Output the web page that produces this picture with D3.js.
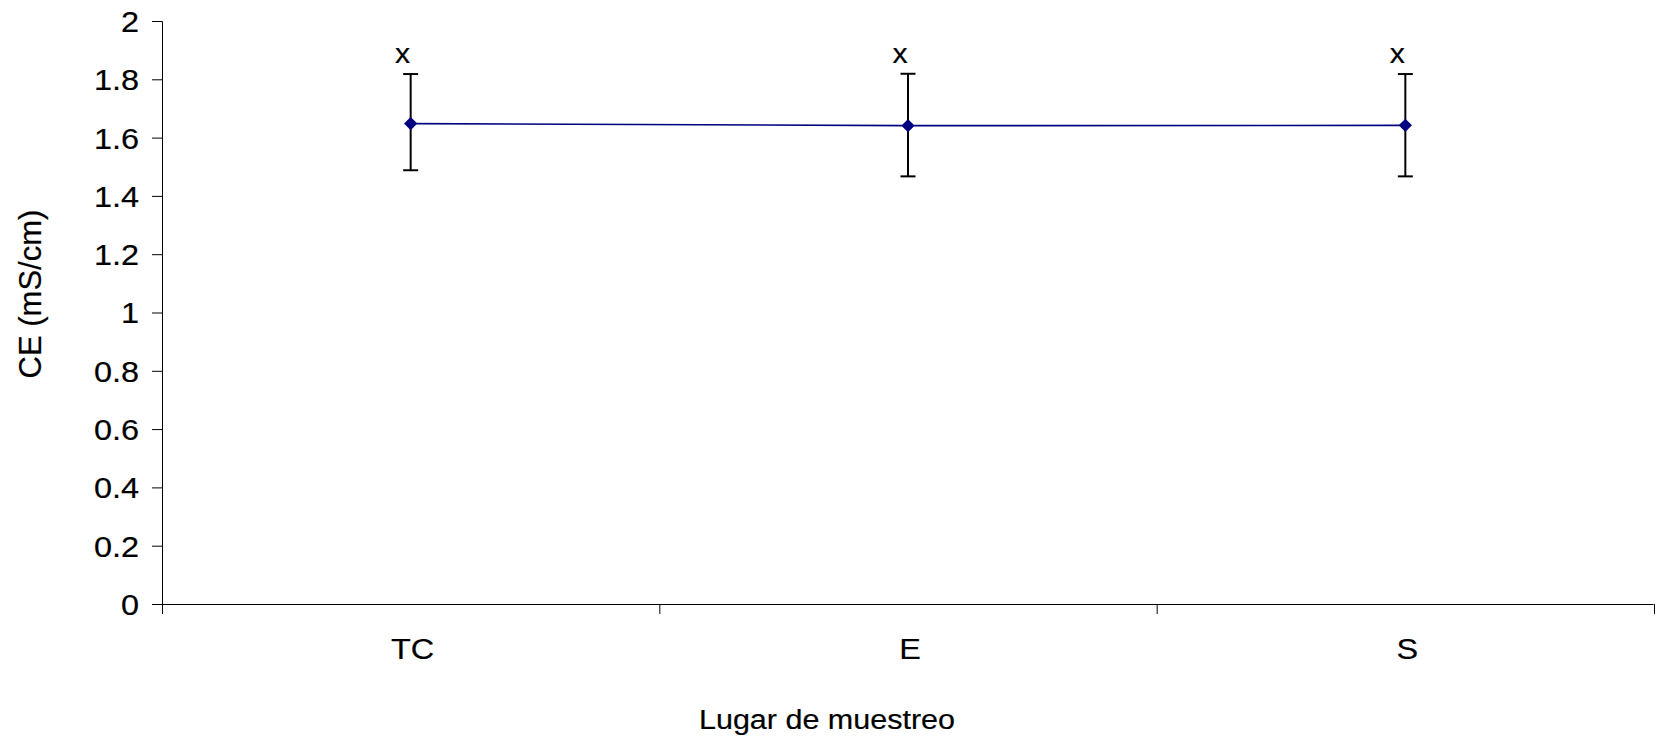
<!DOCTYPE html>
<html lang="es">
<head>
<meta charset="utf-8">
<title>CE por lugar de muestreo</title>
<script src="https://cdn.jsdelivr.net/npm/d3@7"></script>
<style>
  body { margin: 0; background: #fff; }
  text { font-family: "Liberation Sans", Arial, sans-serif; fill: #000; stroke: #000; stroke-width: 0.2px; }
</style>
</head>
<body>
<script>
// datos
var categories = ["TC", "E", "S"];
var means = [1.648, 1.641, 1.642];
var errUp = [0.170, 0.178, 0.176];
var errDown = [0.160, 0.174, 0.175];
var groupLabels = ["x", "x", "x"];
var yTicks = [0, 0.2, 0.4, 0.6, 0.8, 1, 1.2, 1.4, 1.6, 1.8, 2];

var w = 1655, h = 739;
var margin = { top: 21, left: 162, right: 1, bottom: 135 };

var svg = d3.select("body").append("svg")
    .attr("width", w)
    .attr("height", h);

var x0 = margin.left, x1 = w - margin.right;
var yBottom = h - margin.bottom;

var yscale = d3.scaleLinear().domain([0, 2]).range([yBottom, margin.top]);
var xband = d3.scaleBand().domain(categories).range([x0, x1]).padding(0);
var xedge = d3.scaleLinear().domain([0, categories.length]).range([x0, x1]);

// el texto del original sale algo ensanchado: se coloca en x/s y se escala
function wideText(sel, x, y, s) {
    sel.attr("x", x / s).attr("y", y).attr("transform", "scale(" + s + ",1)");
}

// eje y
var yaxis = svg.append("g")
    .attr("transform", "translate(" + x0 + ",0)")
    .call(d3.axisLeft(yscale).tickValues(yTicks).tickSize(10)
        .tickFormat(function(d) { return d3.format("")(+d.toFixed(1)); }));
yaxis.select(".domain").attr("stroke", "#000");
yaxis.selectAll(".tick text")
    .attr("font-size", 29)
    .attr("dy", "0.36em")
    .style("font-family", "Liberation Sans, Arial, sans-serif")
    .each(function() { wideText(d3.select(this), -23, 0, 1.12); });

// eje x: marcas en los limites de categoria
var xaxis = svg.append("g")
    .attr("transform", "translate(0," + yBottom + ")")
    .call(d3.axisBottom(xedge).ticks(categories.length).tickSize(10).tickFormat(""));
xaxis.select(".domain").attr("d", "M" + (x0 + 0.5) + ",0.5H" + (x1 - 0.5)).attr("stroke", "#000");

svg.append("g").selectAll("text")
    .data(categories)
    .enter().append("text")
    .attr("text-anchor", "middle")
    .attr("font-size", 30)
    .text(function(d) { return d; })
    .each(function(d) {
        wideText(d3.select(this), xband(d) + xband.bandwidth() / 2 + 2, yBottom + 55, 1.08);
    });

// titulos
wideText(svg.append("text")
    .attr("text-anchor", "middle")
    .attr("font-size", 28)
    .text("Lugar de muestreo"), 827, 729, 1.09);

svg.append("text")
    .attr("transform", "translate(41,294) rotate(-90)")
    .attr("text-anchor", "middle")
    .attr("font-size", 31)
    .text("CE (mS/cm)");

function cx(i) { return xband(categories[i]) + xband.bandwidth() / 2; }

// linea
var line = d3.line()
    .x(function(d, i) { return cx(i); })
    .y(function(d) { return yscale(d); });

svg.append("path")
    .datum(means)
    .attr("d", line)
    .attr("fill", "none")
    .attr("stroke", "#000080")
    .attr("stroke-width", 1.6);

// barras de error
var eb = svg.append("g").selectAll("g")
    .data(means)
    .enter().append("g")
    .attr("stroke", "#000")
    .attr("stroke-width", 2);

eb.append("line")
    .attr("x1", function(d, i) { return cx(i); })
    .attr("x2", function(d, i) { return cx(i); })
    .attr("y1", function(d, i) { return yscale(d + errUp[i]); })
    .attr("y2", function(d, i) { return yscale(d - errDown[i]); });

eb.append("line")
    .attr("x1", function(d, i) { return cx(i) - 7.5; })
    .attr("x2", function(d, i) { return cx(i) + 7.5; })
    .attr("y1", function(d, i) { return yscale(d + errUp[i]); })
    .attr("y2", function(d, i) { return yscale(d + errUp[i]); });

eb.append("line")
    .attr("x1", function(d, i) { return cx(i) - 7.5; })
    .attr("x2", function(d, i) { return cx(i) + 7.5; })
    .attr("y1", function(d, i) { return yscale(d - errDown[i]); })
    .attr("y2", function(d, i) { return yscale(d - errDown[i]); });

// marcadores en rombo
svg.append("g").selectAll("path")
    .data(means)
    .enter().append("path")
    .attr("d", d3.symbol().type(d3.symbolSquare).size(88))
    .attr("transform", function(d, i) {
        return "translate(" + cx(i) + "," + yscale(d) + ") rotate(45)";
    })
    .attr("fill", "#000080");

// letras de grupo
svg.append("g").selectAll("text")
    .data(groupLabels)
    .enter().append("text")
    .attr("text-anchor", "middle")
    .attr("font-size", 28)
    .text(function(d) { return d; })
    .each(function(d, i) {
        wideText(d3.select(this), cx(i) - 8, yscale(means[i] + errUp[i]) - 11, 1.08);
    });
</script>
</body>
</html>
